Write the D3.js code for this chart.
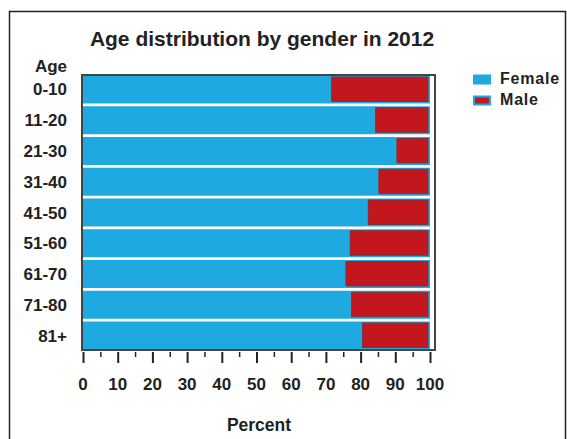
<!DOCTYPE html>
<html><head><meta charset="utf-8">
<script src="https://cdn.jsdelivr.net/npm/d3@7"></script>
<style>html,body{margin:0;padding:0;background:#fff;}svg{display:block;font-family:"Liberation Sans",Arial,sans-serif;font-weight:bold;}</style>
</head><body>
<script>
const categories = ["0-10","11-20","21-30","31-40","41-50","51-60","61-70","71-80","81+"];
const female = [71.5, 84.1, 90.3, 85.1, 82.0, 76.8, 75.6, 77.2, 80.4];
const male = [28.5, 15.9, 9.7, 14.9, 18.0, 23.2, 24.4, 22.8, 19.6];
const seriesNames = ["Female","Male"];
const xTicks = [0,10,20,30,40,50,60,70,80,90,100];
const xMinorTicks = [5,15,25,35,45,55,65,75,85,95];

const W = 567, H = 439;
const BLUE = "#1ea9e0", RED = "#c3161d";
const svg = d3.select("body").append("svg").attr("width", W).attr("height", H);

// outer frame
svg.append("rect").attr("x", 9.5).attr("y", 11.5).attr("width", 556).attr("height", 460)
  .attr("fill", "none").attr("stroke", "#222").attr("stroke-width", 1.5);

const plot = {left: 82, right: 435, top: 75, bottom: 350};
const x = d3.scaleLinear().domain([0, 100]).range([83, 430]);
const y = d3.scaleBand().domain(categories).range([plot.top + 0.5, plot.bottom - 0.5]).paddingInner(0.09).paddingOuter(0);

// title
svg.append("text").attr("x", 262).attr("y", 46).attr("text-anchor", "middle")
  .attr("font-size", 21).attr("fill", "#222").text("Age distribution by gender in 2012");

// Age label
svg.append("text").attr("x", 67).attr("y", 72).attr("text-anchor", "end")
  .attr("font-size", 17).attr("fill", "#222").text("Age");

const data = categories.map((c, i) => ({c, f: female[i], m: male[i]}));

// female bars
svg.append("g").selectAll("rect").data(data).join("rect")
  .attr("x", x(0)).attr("y", d => y(d.c))
  .attr("width", d => x(d.f) - x(0)).attr("height", y.bandwidth())
  .attr("fill", BLUE);

// male bars (blue border, red inner)
const mg = svg.append("g").selectAll("g").data(data).join("g");
mg.append("rect")
  .attr("x", d => x(d.f)).attr("y", d => y(d.c))
  .attr("width", d => x(100) - x(d.f)).attr("height", y.bandwidth())
  .attr("fill", BLUE);
mg.append("rect")
  .attr("x", d => x(d.f) + 0.5).attr("y", d => y(d.c) + 1.5)
  .attr("width", d => x(100) - x(d.f) - 2.5).attr("height", y.bandwidth() - 3.5)
  .attr("fill", RED).attr("stroke", "#6f3b4a").attr("stroke-width", 1);

// plot frame
svg.append("rect").attr("x", plot.left).attr("y", plot.top)
  .attr("width", plot.right - plot.left).attr("height", plot.bottom - plot.top)
  .attr("fill", "none").attr("stroke", "#444").attr("stroke-width", 2);

// y labels
svg.append("g").selectAll("text").data(categories).join("text")
  .attr("x", 67).attr("y", d => y(d) + y.bandwidth() / 2 + 6)
  .attr("text-anchor", "end").attr("font-size", 17).attr("fill", "#222").text(d => d);

// x axis ticks
const axisG = svg.append("g").attr("transform", `translate(0,352)`);
axisG.call(d3.axisBottom(x).tickValues(xTicks).tickSize(11).tickFormat(""))
  .call(g => g.select(".domain").remove())
  .call(g => g.selectAll(".tick line").attr("stroke", "#222").attr("stroke-width", 2));
const minorG = svg.append("g").attr("transform", `translate(0,352)`);
minorG.call(d3.axisBottom(x).tickValues(xMinorTicks).tickSize(5).tickFormat(""))
  .call(g => g.select(".domain").remove())
  .call(g => g.selectAll(".tick line").attr("stroke", "#222").attr("stroke-width", 1.5));

svg.append("g").selectAll("text").data(xTicks).join("text")
  .attr("x", d => x(d)).attr("y", 390).attr("text-anchor", "middle")
  .attr("font-size", 17).attr("fill", "#222").text(d => d);

svg.append("text").attr("x", 259).attr("y", 431).attr("text-anchor", "middle")
  .attr("font-size", 17.5).attr("fill", "#222").text("Percent");

// legend
const lg = svg.append("g");
lg.append("rect").attr("x", 473).attr("y", 74.5).attr("width", 18).attr("height", 10).attr("fill", BLUE);
lg.append("rect").attr("x", 474).attr("y", 96.5).attr("width", 16).attr("height", 8)
  .attr("fill", RED).attr("stroke", BLUE).attr("stroke-width", 2);
lg.append("text").attr("x", 500).attr("y", 83.5).attr("font-size", 16).attr("letter-spacing", 0.8)
  .attr("fill", "#222").text(seriesNames[0]);
lg.append("text").attr("x", 500).attr("y", 104.5).attr("font-size", 16).attr("letter-spacing", 0.8)
  .attr("fill", "#222").text(seriesNames[1]);
</script>
</body></html>
